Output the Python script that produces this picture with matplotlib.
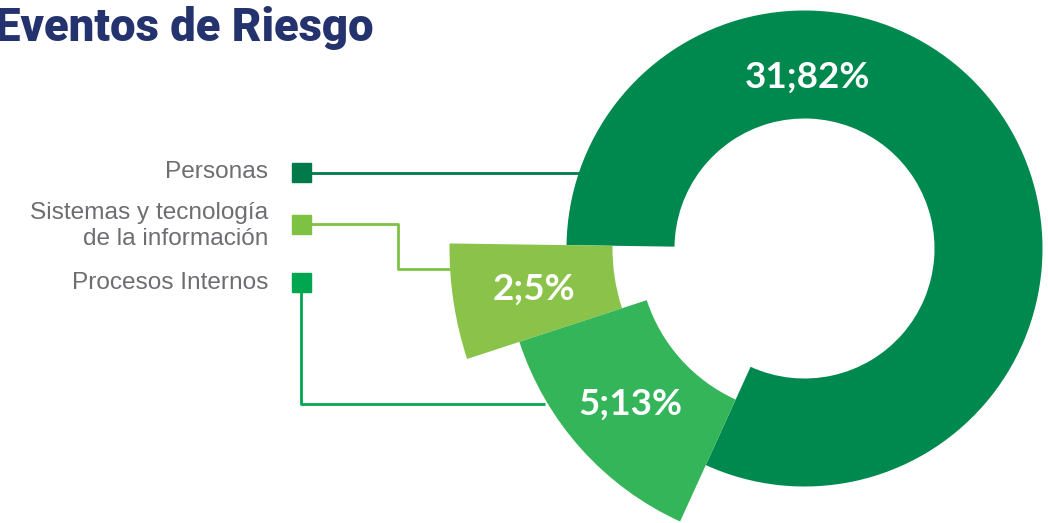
import numpy as np
import matplotlib.pyplot as plt
from matplotlib.patches import Wedge, Rectangle

categories = ["Personas", "Sistemas y tecnología\nde la información", "Procesos Internos"]
counts = [31, 2, 5]
percents = [82, 5, 13]

colors = ["#00894e", "#8bc34a", "#34b55a"]
legend_colors = ["#007a4b", "#7dc242", "#00a650"]
radii = [(130, 238), (192, 355), (166, 300)]   # inner, outer (px)
center = (804.5, 248.5)
start = 245.5 - 360                                # visual angle where Personas starts

fig = plt.figure(figsize=(10.48, 5.23), dpi=100)
ax = fig.add_axes([0, 0, 1, 1])
ax.set_xlim(0, 1048)
ax.set_ylim(523, 0)
ax.set_aspect("equal")
ax.axis("off")

# connector lines + legend squares (drawn first so slices cover the ends)
ax.plot([311, 580], [172.5, 172.5], color=legend_colors[0], lw=2, solid_capstyle="butt")
ax.plot([311, 398, 398, 455], [224, 224, 269, 269], color="#7dc242", lw=2, solid_capstyle="butt")
ax.plot([301, 301, 545], [292, 404, 404], color="#00a650", lw=2, solid_capstyle="butt")

sq_y = [163, 214.5, 273]
text_y = [172, 226, 283]
for c, y, ty, lab in zip(legend_colors, sq_y, text_y, categories):
    ax.add_patch(Rectangle((292, y), 19, 19, color=c, zorder=3))
    ax.text(268, ty, lab, ha="right", va="center", fontsize=17.6,
            family="Liberation Sans", color="#6d6e71", linespacing=1.22)

total = sum(counts)
a0 = start
mids = []
for v, c, (r0, r1) in zip(counts, colors, radii):
    span = 360 * v / total
    a1 = a0 + span
    # inverted y axis: visual angle t -> data angle -t
    ax.add_patch(Wedge(center, r1, -a1, -a0, width=r1 - r0, facecolor=c,
                       edgecolor="none", zorder=4))
    mids.append(((a0 + a1) / 2, (r0 + r1) / 2))
    a0 = a1

labels = [f"{v};{p}%" for v, p in zip(counts, percents)]
label_pos = [(89, 171), mids[1], mids[2]]
for lab, (ang, r) in zip(labels, label_pos):
    x = center[0] + r * np.cos(np.radians(ang))
    y = center[1] - r * np.sin(np.radians(ang))
    ax.text(x, y, lab, ha="center", va="center", fontsize=26.5, fontweight="bold",
            family="Lato", color="white", zorder=5)

ax.text(-5, 28, "Eventos de Riesgo", ha="left", va="center", fontsize=32.8,
        fontweight="black", family="Roboto", color="#24336e")

fig.savefig("out.png", dpi=100)
